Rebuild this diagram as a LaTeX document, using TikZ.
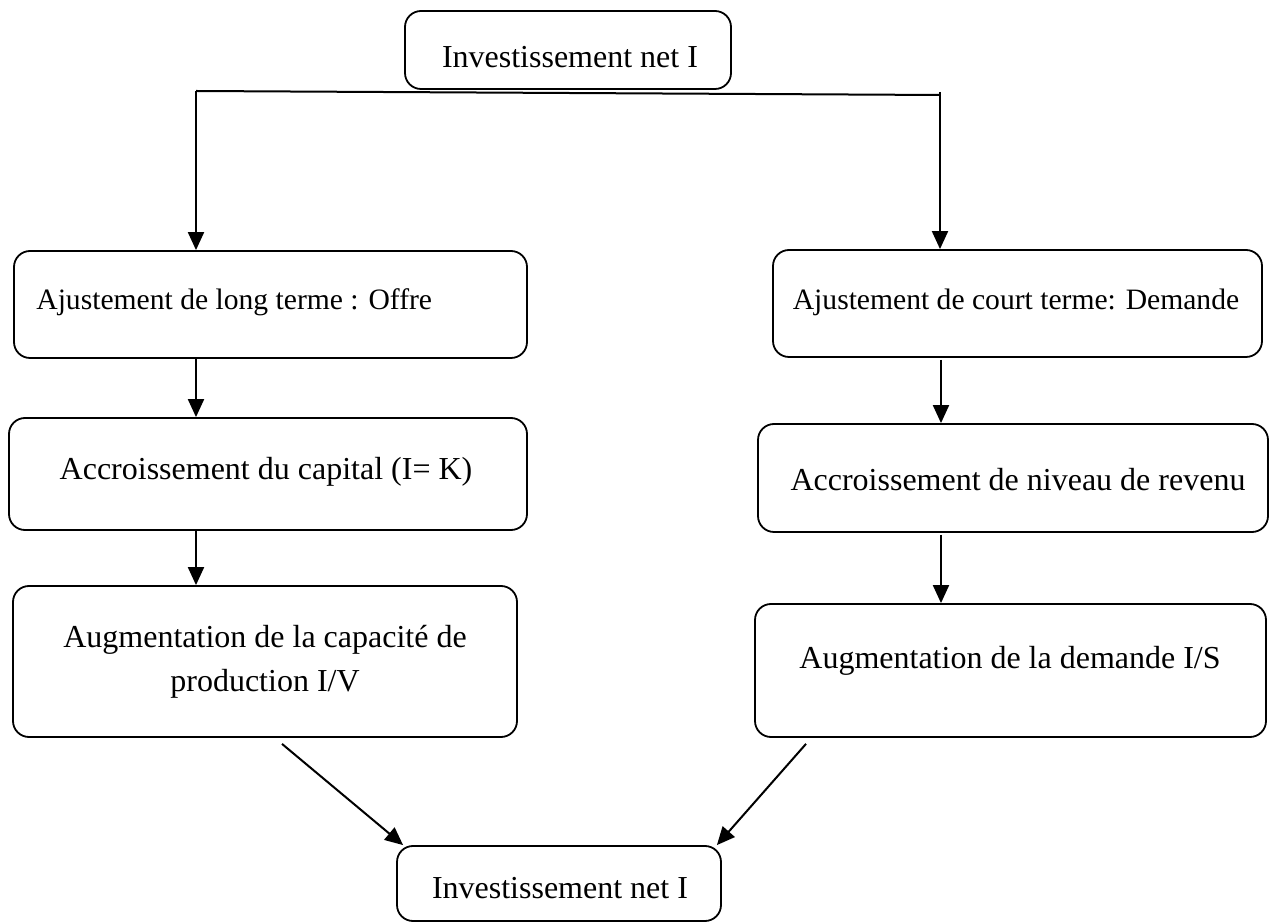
\documentclass[tikz,border=0pt]{standalone}
\usepackage{fontspec}
\setmainfont{Liberation Serif}
\usetikzlibrary{arrows.meta}
\begin{document}
\begin{tikzpicture}[x=0.5pt,y=-0.5pt,
  box/.style={draw=black, line width=0.9pt, rounded corners=8pt, inner sep=0pt},
  txt/.style={font=\fontsize{16}{19}\selectfont, inner sep=0pt},
  stxt/.style={font=\fontsize{14.8}{17}\selectfont, inner sep=0pt},
  conn/.style={line width=1pt, -{Triangle[length=9pt,width=8pt]}},
  plain/.style={line width=1pt}]
\useasboundingbox (0,0) rectangle (1270,924);
% boxes
\node[box, minimum width=163pt, minimum height=39pt] (T) at (568,50) {};
\node[box, minimum width=256.5pt, minimum height=53.5pt] (L1) at (270.5,304.5) {};
\node[box, minimum width=244.5pt, minimum height=53.5pt] (R1) at (1017.5,303.5) {};
\node[box, minimum width=259pt, minimum height=56pt] (L2) at (268,474) {};
\node[box, minimum width=255pt, minimum height=54pt] (R2) at (1013,478) {};
\node[box, minimum width=252pt, minimum height=75.5pt] (L3) at (265,661.5) {};
\node[box, minimum width=255.5pt, minimum height=66.5pt] (R3) at (1010.5,670.5) {};
\node[box, minimum width=162pt, minimum height=37.5pt] (B) at (559,883.5) {};
% texts
\node[txt] (tT) at (570,57) {Investissement net I};
\node[stxt, anchor=west] (tL1) at (36,302) {Ajustement de long terme : Offre};
\node[stxt] (tR1) at (1016,302) {Ajustement de court terme: Demande};
\node[txt] (tL2) at (266,472) {Accroissement du capital (I= K)};
\node[txt] (tR2) at (1018,480) {Accroissement de niveau de revenu};
\node[txt] (tL3a) at (265,640) {Augmentation de la capacité de};
\node[txt] (tL3b) at (265,684) {production I/V};
\node[txt] (tR3) at (1010,661) {Augmentation de la demande I/S};
\node[txt] (tB) at (560,888) {Investissement net I};
% connectors
\coordinate (hl) at (196,91);
\coordinate (hr) at (940,95);
\coordinate (hrt) at (940,92);
\draw[plain] (hl) -- (hr);
\draw[conn] (hl) -- (hl |- L1.north);
\draw[conn] (hrt) -- (hrt |- R1.north);
\draw[conn] (L1.south -| hl) -- (L2.north -| hl);
\coordinate (r1s) at ([yshift=-1pt]R1.south -| 941,0);
\draw[conn] (r1s) -- (r1s |- R2.north);
\draw[conn] (L2.south -| hl) -- (L3.north -| hl);
\coordinate (r2s) at ([yshift=-1pt]R2.south -| 941,0);
\draw[conn] (r2s) -- (r2s |- R3.north);
\coordinate (d1) at ([yshift=-3pt]L3.south -| 282,0);
\coordinate (d2) at ([yshift=-3pt]R3.south -| 806,0);
\draw[conn] (d1) -- ([xshift=3.5pt]B.north west);
\draw[conn] (d2) -- ([xshift=-2.5pt]B.north east);
\end{tikzpicture}
\end{document}
